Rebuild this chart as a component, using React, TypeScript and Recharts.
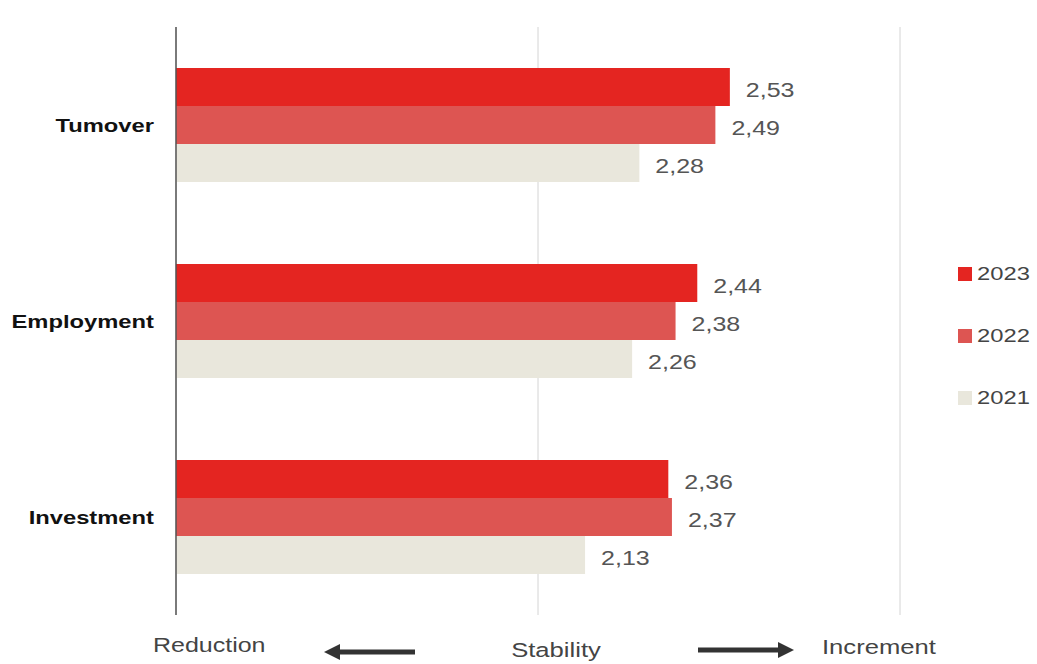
import { BarChart, Bar, XAxis, YAxis, CartesianGrid, LabelList } from 'recharts';

const categories = ['Tumover', 'Employment', 'Investment'];
const values2023 = [2.53, 2.44, 2.36];
const values2022 = [2.49, 2.38, 2.37];
const values2021 = [2.28, 2.26, 2.13];
const xTicks = [1, 2, 3];
const xTickLabels = ['Reduction', 'Stability', 'Increment'];

const series = [
  { key: 'y2023', name: '2023', color: '#E42521' },
  { key: 'y2022', name: '2022', color: '#DD5552' },
  { key: 'y2021', name: '2021', color: '#E9E7DC' },
];

const data = categories.map((c, i) => ({
  category: c,
  y2023: values2023[i],
  y2022: values2022[i],
  y2021: values2021[i],
}));

const FONT = '"Liberation Sans", Arial, sans-serif';
const STRETCH = 1.25;

function StretchText({ x, y, anchor = 'start', size, weight = 400, fill, children }: any) {
  return (
    <text
      transform={`translate(${x},${y}) scale(${STRETCH},1)`}
      textAnchor={anchor}
      fontFamily={FONT}
      fontSize={size}
      fontWeight={weight}
      fill={fill}
    >
      {children}
    </text>
  );
}

function CategoryTick(props: any) {
  const { x, y, payload } = props;
  return (
    <StretchText x={x - 14} y={y + 7} anchor="end" size={19} weight={700} fill="#111">
      {payload.value}
    </StretchText>
  );
}

function BottomTick(props: any) {
  const { x, payload } = props;
  const idx = xTicks.indexOf(payload.value);
  const label = xTickLabels[idx];
  if (idx === 0) {
    return (
      <StretchText x={x - 23} y={652} size={20} fill="#444">
        {label}
      </StretchText>
    );
  }
  if (idx === 2) {
    return (
      <StretchText x={x - 78} y={654} size={20.5} fill="#444">
        {label}
      </StretchText>
    );
  }
  return (
    <g>
      <StretchText x={x + 18} y={657} anchor="middle" size={20.5} fill="#444">
        {label}
      </StretchText>
      {/* left arrow */}
      <line x1={x - 200} y1={652} x2={x - 123} y2={652} stroke="#333" strokeWidth={5} />
      <polygon points={`${x - 214},652 ${x - 198},644 ${x - 198},660`} fill="#333" />
      {/* right arrow */}
      <line x1={x + 160} y1={650} x2={x + 240} y2={650} stroke="#333" strokeWidth={5} />
      <polygon points={`${x + 256},650 ${x + 240},642 ${x + 240},658`} fill="#333" />
    </g>
  );
}

function ValueLabel(props: any) {
  const { x, y, width, height, value } = props;
  return (
    <StretchText x={x + width + 16} y={y + height / 2 + 10} size={20} fill="#555">
      {Number(value).toFixed(2).replace('.', ',')}
    </StretchText>
  );
}

export default function App() {
  return (
    <div style={{ position: 'absolute', left: 0, top: 0, width: 1037, height: 664, background: '#fff' }}>
      <BarChart
        width={1037}
        height={664}
        data={data}
        layout="vertical"
        margin={{ top: 27, right: 137, bottom: 0, left: 0 }}
        barGap={0}
        barSize={38}
      >
        <CartesianGrid horizontal={false} vertical={true} stroke="#D4D4D4" strokeWidth={1} />
        <XAxis
          type="number"
          domain={[1, 3]}
          ticks={xTicks}
          axisLine={false}
          tickLine={false}
          height={49}
          tick={<BottomTick />}
          interval={0}
        />
        <YAxis
          type="category"
          dataKey="category"
          width={176}
          axisLine={{ stroke: '#555', strokeWidth: 1.5 }}
          tickLine={false}
          tick={<CategoryTick />}
        />
        {series.map((s) => (
          <Bar key={s.key} dataKey={s.key} name={s.name} fill={s.color} isAnimationActive={false}>
            <LabelList dataKey={s.key} content={<ValueLabel />} />
          </Bar>
        ))}
      </BarChart>
      <div style={{ position: 'absolute', left: 958, top: 258, fontFamily: FONT }}>
        {series.map((s) => (
          <div key={s.key} style={{ display: 'flex', alignItems: 'center', height: 32, marginBottom: 30 }}>
            <div style={{ width: 14, height: 14, background: s.color, marginRight: 5 }} />
            <span
              style={{
                fontSize: 19,
                color: '#444',
                display: 'inline-block',
                transform: `scaleX(${STRETCH})`,
                transformOrigin: 'left center',
              }}
            >
              {s.name}
            </span>
          </div>
        ))}
      </div>
    </div>
  );
}
